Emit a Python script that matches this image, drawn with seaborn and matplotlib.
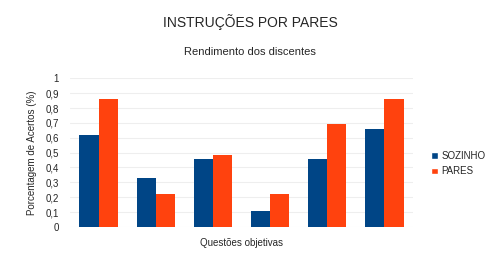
import matplotlib
matplotlib.use("Agg")
import matplotlib.pyplot as plt
import pandas as pd
import seaborn as sns
from matplotlib.patches import Patch

questoes = ["Q1", "Q2", "Q3", "Q4", "Q5", "Q6"]
sozinho = [0.62, 0.33, 0.46, 0.11, 0.46, 0.66]
pares = [0.86, 0.22, 0.485, 0.22, 0.69, 0.86]
yticks = [0, 0.1, 0.2, 0.3, 0.4, 0.5, 0.6, 0.7, 0.8, 0.9, 1]
ytick_labels = ["0", "0,1", "0,2", "0,3", "0,4", "0,5", "0,6", "0,7", "0,8", "0,9", "1"]

df = pd.DataFrame({
    "questao": questoes * 2,
    "valor": sozinho + pares,
    "grupo": ["SOZINHO"] * len(questoes) + ["PARES"] * len(questoes),
})

sns.set_style("white")
plt.rcParams["font.family"] = ["Liberation Sans", "DejaVu Sans"]

cores = {"SOZINHO": "#004586", "PARES": "#ff420e"}

fig = plt.figure(figsize=(5, 2.6), dpi=100)
ax = fig.add_axes([0.14, 0.127, 0.686, 0.572])

sns.barplot(data=df, x="questao", y="valor", hue="grupo", palette=cores,
            width=0.67, saturation=1, linewidth=0, ax=ax, legend=False)

ax.set_ylim(0, 1)
ax.set_yticks(yticks)
ax.set_yticklabels(ytick_labels, fontsize=7)
ax.set_xticks([])
ax.tick_params(axis="y", length=0, pad=8)
ax.yaxis.grid(True, color="#eeeeee", linewidth=0.8)
ax.set_axisbelow(True)
for s in ax.spines.values():
    s.set_visible(False)

ax.set_ylabel("Porcentagem de Acertos (%)", fontsize=7, labelpad=6)
ax.set_xlabel("Questões objetivas", fontsize=7, labelpad=8)

fig.text(0.5, 0.915, "INSTRUÇÕES POR PARES", ha="center", va="center", fontsize=10)
fig.text(0.5, 0.80, "Rendimento dos discentes", ha="center", va="center", fontsize=8)

handles = [Patch(facecolor=cores[k], label=k) for k in ["SOZINHO", "PARES"]]
fig.legend(handles=handles, loc="center left", bbox_to_anchor=(0.855, 0.37),
           frameon=False, fontsize=7, handlelength=0.7, handleheight=0.7,
           handletextpad=0.3, labelspacing=0.55, borderaxespad=0)

fig.savefig("out.png", dpi=100)
